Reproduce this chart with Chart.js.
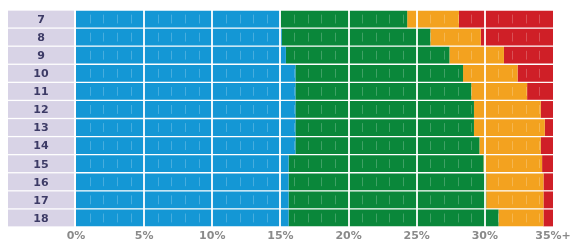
<!DOCTYPE html>
<html lang="en">
<head>
    <meta charset="UTF-8">
    <title>Stacked Share by Age</title>
    <script src="https://cdn.jsdelivr.net/npm/chart.js"></script>
    <style>
        body {
            margin: 0;
            background: #ffffff;
        }

        .chart-container {
            width: 580px;
            height: 248px;
            position: relative;
        }
    </style>
</head>
<body>
    <div class="chart-container">
        <canvas id="ageChart"></canvas>
    </div>

    <script>
        // Rows (ages) and the four stacked segments, in percentage points
        const ages = ['7', '8', '9', '10', '11', '12', '13', '14', '15', '16', '17', '18'];
        const blueValues   = [15.0, 15.1, 15.4, 16.1, 16.1, 16.1, 16.1, 16.1, 15.6, 15.6, 15.6, 15.6];
        const greenValues  = [9.3, 10.9, 12.0, 12.3, 12.9, 13.1, 13.1, 13.5, 14.3, 14.5, 14.5, 15.4];
        const orangeValues = [3.8, 3.7, 4.0, 4.0, 4.1, 4.9, 5.2, 4.5, 4.3, 4.2, 4.2, 3.3];
        const redValues    = [6.9, 5.3, 3.6, 2.6, 1.9, 0.9, 0.6, 0.9, 0.8, 0.7, 0.7, 0.7];
        const tickLabels = ['0%', '5%', '10%', '15%', '20%', '25%', '30%', '35%+'];

        // Lavender label boxes on the left, white grid lines over the bars
        const overlayPlugin = {
            id: 'overlay',
            afterDatasetsDraw(chart) {
                const ctx = chart.ctx;
                const x = chart.scales.x;
                const area = chart.chartArea;
                const meta = chart.getDatasetMeta(0);
                ctx.save();

                // faint 1% dashes inside the bars
                ctx.strokeStyle = 'rgba(255,255,255,0.22)';
                ctx.lineWidth = 1;
                meta.data.forEach(bar => {
                    const top = bar.y - bar.height / 2;
                    for (let v = 1; v < 35; v++) {
                        if (v % 5 === 0) continue;
                        const px = Math.round(x.getPixelForValue(v)) + 0.5;
                        ctx.beginPath();
                        ctx.moveTo(px, top + 4);
                        ctx.lineTo(px, top + bar.height - 4);
                        ctx.stroke();
                    }
                });

                // white 5% grid lines
                ctx.strokeStyle = 'rgba(255,255,255,0.9)';
                ctx.lineWidth = 2;
                for (let v = 5; v < 35; v += 5) {
                    const px = Math.round(x.getPixelForValue(v));
                    ctx.beginPath();
                    ctx.moveTo(px, area.top);
                    ctx.lineTo(px, area.bottom);
                    ctx.stroke();
                }

                // label boxes
                ctx.font = 'bold 11px "DejaVu Sans", sans-serif';
                ctx.textAlign = 'center';
                ctx.textBaseline = 'middle';
                meta.data.forEach((bar, i) => {
                    const top = bar.y - bar.height / 2;
                    ctx.fillStyle = '#d8d3e6';
                    ctx.fillRect(8, top, area.left - 10, bar.height);
                    ctx.fillStyle = '#3d3b66';
                    ctx.fillText(ages[i], 8 + (area.left - 10) / 2, bar.y + 1);
                });
                ctx.restore();
            }
        };

        const ctx = document.getElementById('ageChart').getContext('2d');
        new Chart(ctx, {
            type: 'bar',
            data: {
                labels: ages,
                datasets: [
                    { data: blueValues,   backgroundColor: '#1497d5' },
                    { data: greenValues,  backgroundColor: '#0a873a' },
                    { data: orangeValues, backgroundColor: '#f3a21f' },
                    { data: redValues,    backgroundColor: '#cf1f27' }
                ]
            },
            options: {
                indexAxis: 'y',
                responsive: true,
                maintainAspectRatio: false,
                animation: false,
                layout: {
                    padding: { left: 76, right: 27, top: 10, bottom: 2 }
                },
                datasets: {
                    bar: {
                        barPercentage: 0.93,
                        categoryPercentage: 1.0,
                        borderWidth: 0
                    }
                },
                plugins: {
                    legend: { display: false },
                    tooltip: { enabled: false }
                },
                scales: {
                    x: {
                        stacked: true,
                        min: 0,
                        max: 35,
                        grid: { display: false, drawTicks: false },
                        border: { display: false },
                        ticks: {
                            stepSize: 5,
                            color: '#8a8a8a',
                            padding: 4,
                            font: { family: '"DejaVu Sans", sans-serif', size: 11, weight: 'bold', lineHeight: 1 },
                            callback: function(value) {
                                return tickLabels[value / 5];
                            }
                        }
                    },
                    y: {
                        stacked: true,
                        display: false
                    }
                }
            },
            plugins: [overlayPlugin]
        });
    </script>
</body>
</html>
